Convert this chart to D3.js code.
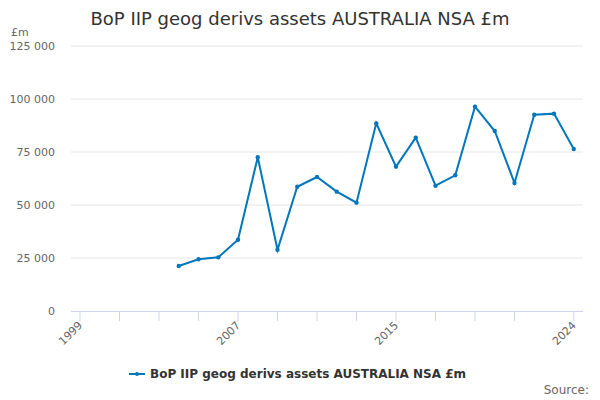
<!DOCTYPE html>
<html><head><meta charset="utf-8">
<script src="https://cdn.jsdelivr.net/npm/d3@7"></script>
<style>body{margin:0;background:#fff}svg{font-family:"DejaVu Sans",sans-serif}</style>
</head><body><svg id="c" width="600" height="400"></svg>
<script>
const years = d3.range(1999, 2025).map(String);
const dataYears = ["2004","2005","2006","2007","2008","2009","2010","2011","2012","2013","2014","2015","2016","2017","2018","2019","2020","2021","2022","2023","2024"];
const values = [21200,24400,25300,33600,72500,28900,58600,63200,56300,51100,88500,68100,81800,59100,64000,96400,84900,60400,92600,93100,76400];
const yTicks = [0,25000,50000,75000,100000,125000];
const xTickYears = ["1999","2001","2003","2005","2007","2009","2011","2013","2015","2017","2019","2021","2024"];
const xLabelYears = ["1999","2007","2015","2024"];
const title = "BoP IIP geog derivs assets AUSTRALIA NSA £m";
const seriesName = "BoP IIP geog derivs assets AUSTRALIA NSA £m";

const svg = d3.select("#c");
const L = 71, R = 583, T = 46, B = 311;
const x = d3.scalePoint().domain(years).range([80, 573.75]);
const y = d3.scaleLinear().domain([0,125000]).range([B, T]);
const fmt = v => d3.format(",")(v).replace(/,/g, " ");

svg.append("text").attr("x",300).attr("y",25).attr("text-anchor","middle")
  .attr("font-size",18).attr("fill","#333").text(title);
svg.append("text").attr("x",11).attr("y",36).attr("font-size",11).attr("fill","#666").text("£m");

const gy = svg.append("g");
yTicks.forEach(t=>{
  if(t>0) gy.append("line").attr("x1",L).attr("x2",R).attr("y1",y(t)).attr("y2",y(t)).attr("stroke","#e6e6e6");
  gy.append("text").attr("x",55).attr("y",y(t)+4).attr("text-anchor","end").attr("font-size",11).attr("fill","#666").text(fmt(t));
});
svg.append("line").attr("x1",L).attr("x2",R).attr("y1",B+0.5).attr("y2",B+0.5).attr("stroke","#ccd6eb");
xTickYears.forEach(yr=>{
  svg.append("line").attr("x1",x(yr)).attr("x2",x(yr)).attr("y1",B).attr("y2",B+10).attr("stroke","#ccd6eb");
});
xLabelYears.forEach(yr=>{
  svg.append("text").attr("transform",`translate(${x(yr)+3},${B+15}) rotate(-45)`)
    .attr("text-anchor","end").attr("font-size",11).attr("fill","#666").text(yr);
});

const pts = dataYears.map((d,i)=>[x(d), y(values[i])]);
svg.append("path").attr("d", d3.line()(pts)).attr("fill","none").attr("stroke","#0077bb").attr("stroke-width",2);
svg.selectAll("circle.p").data(pts).enter().append("circle").attr("cx",d=>d[0]).attr("cy",d=>d[1]).attr("r",2.2).attr("fill","#0077bb");

svg.append("line").attr("x1",129).attr("x2",145).attr("y1",374).attr("y2",374).attr("stroke","#0077bb").attr("stroke-width",2);
svg.append("circle").attr("cx",137).attr("cy",374).attr("r",2).attr("fill","#0077bb");
svg.append("text").attr("x",150).attr("y",378).attr("font-size",12).attr("font-weight","bold").attr("fill","#333").text(seriesName);
svg.append("text").attr("x",589).attr("y",394).attr("text-anchor","end").attr("font-size",12).attr("fill","#666").text("Source:");
</script></body></html>
